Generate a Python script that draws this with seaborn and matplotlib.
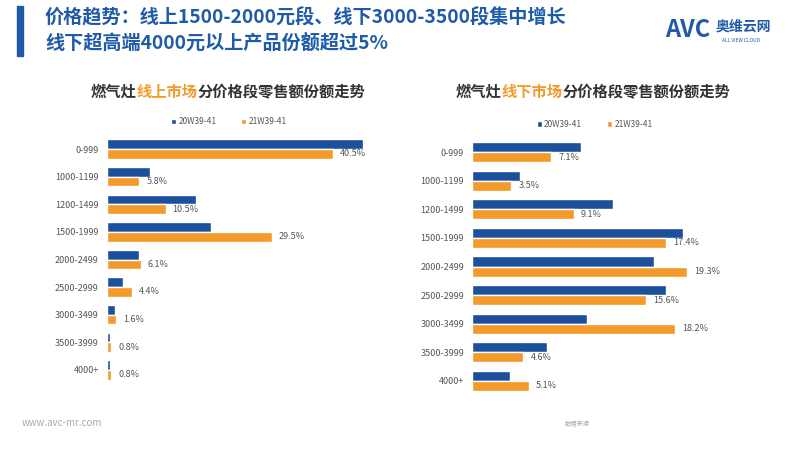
import pandas as pd
import numpy as np
import matplotlib.pyplot as plt
import seaborn as sns

# price bands (shared by both charts)
price_bands = ['0-999', '1000-1199', '1200-1499', '1500-1999', '2000-2499',
               '2500-2999', '3000-3499', '3500-3999', '4000+']
periods = ['20W39-41', '21W39-41']

# online market share (%)
online_20w = [45.9, 7.7, 16.0, 18.6, 5.8, 2.9, 1.5, 0.5, 0.5]
online_21w = [40.5, 5.8, 10.5, 29.5, 6.1, 4.4, 1.6, 0.8, 0.8]

# offline market share (%)
offline_20w = [9.8, 4.3, 12.6, 18.9, 16.3, 17.4, 10.3, 6.7, 3.4]
offline_21w = [7.1, 3.5, 9.1, 17.4, 19.3, 15.6, 18.2, 4.6, 5.1]

BLUE = '#1C4F9C'
ORANGE = '#F39A2B'
HEAD_BLUE = '#1F5BA8'

sns.set_theme(style='white')
plt.rcParams['font.family'] = ['Noto Sans CJK SC', 'DejaVu Sans']


def make_frame(a, b):
    return pd.DataFrame({
        'band': price_bands * 2,
        'period': [periods[0]] * len(price_bands) + [periods[1]] * len(price_bands),
        'share': list(a) + list(b),
    })


def draw_panel(ax, a, b, xmax, legend_x):
    df = make_frame(a, b)
    sns.barplot(data=df, y='band', x='share', hue='period', order=price_bands,
                hue_order=periods, palette=[BLUE, ORANGE], orient='h',
                width=0.7, ax=ax, errorbar=None, saturation=1)
    ax.set_xlim(0, xmax)
    ax.set_ylim(len(price_bands) - 0.5, -0.5)
    ax.set_xlabel('')
    ax.set_ylabel('')
    ax.set_xticks([])
    ax.tick_params(axis='y', length=0, pad=6, labelsize=6.5, labelcolor='#555555')
    for s in ax.spines.values():
        s.set_visible(False)
    ax.bar_label(ax.containers[1], fmt='%.1f%%', padding=5, fontsize=6.5, color='#555555')
    sns.move_legend(ax, 'lower center', bbox_to_anchor=(legend_x, 1.005), ncol=2,
                    frameon=False, title=None, fontsize=6, handlelength=0.6,
                    handleheight=0.6, columnspacing=3, handletextpad=0.3,
                    labelcolor='#555555')


fig = plt.figure(figsize=(8, 4.5), dpi=100)

ax1 = fig.add_axes([107 / 800, 1 - 383.8 / 450, 259.5 / 800, 248.6 / 450])
draw_panel(ax1, online_20w, online_21w, 46.5, 0.47)

ax2 = fig.add_axes([472.3 / 800, 1 - 395.3 / 450, 222.6 / 800, 257.6 / 450])
draw_panel(ax2, offline_20w, offline_21w, 20.0, 0.55)

# header
fig.patches.append(plt.Rectangle((17 / 800, 1 - 56 / 450), 6 / 800, 50 / 450,
                                 transform=fig.transFigure, color=HEAD_BLUE))
fig.text(45 / 800, 1 - 18 / 450, '价格趋势：线上1500-2000元段、线下3000-3500段集中增长',
         fontsize=13.8, fontweight='bold', color=HEAD_BLUE, va='center', ha='left')
fig.text(45 / 800, 1 - 43 / 450, '线下超高端4000元以上产品份额超过5%',
         fontsize=13.8, fontweight='bold', color=HEAD_BLUE, va='center', ha='left')

# logo
fig.text(665 / 800, 1 - 30 / 450, 'AVC', fontsize=17, fontweight='bold',
         color=HEAD_BLUE, va='center', ha='left', style='italic')
fig.text(716 / 800, 1 - 27 / 450, '奥维云网', fontsize=10, fontweight='bold',
         color=HEAD_BLUE, va='center', ha='left')
fig.text(741 / 800, 1 - 40 / 450, 'ALL VIEW CLOUD', fontsize=3.5,
         color=HEAD_BLUE, va='center', ha='center')

# panel titles
for cx, mid in [(228, '线上市场'), (593, '线下市场')]:
    t1 = fig.text(0, 0, '燃气灶', fontsize=11, fontweight='bold', color='#333333')
    t2 = fig.text(0, 0, mid, fontsize=11, fontweight='bold', color=ORANGE)
    t3 = fig.text(0, 0, '分价格段零售额份额走势', fontsize=11, fontweight='bold', color='#333333')
    fig.canvas.draw()
    r = fig.canvas.get_renderer()
    widths = [t.get_window_extent(r).width for t in (t1, t2, t3)]
    x = cx - sum(widths) / 2
    for t, w in zip((t1, t2, t3), widths):
        t.set_position((x / 800, 1 - 92 / 450))
        t.set_va('center')
        x += w

# footer
fig.text(22 / 800, 1 - 423 / 450, 'www.avc-mr.com', fontsize=7, color='#aaaaaa',
         va='center', ha='left')
fig.text(565 / 800, 1 - 424 / 450, '数据来源', fontsize=4.5, color='#aaaaaa',
         va='center', ha='left')

fig.savefig('out.png', dpi=100)
